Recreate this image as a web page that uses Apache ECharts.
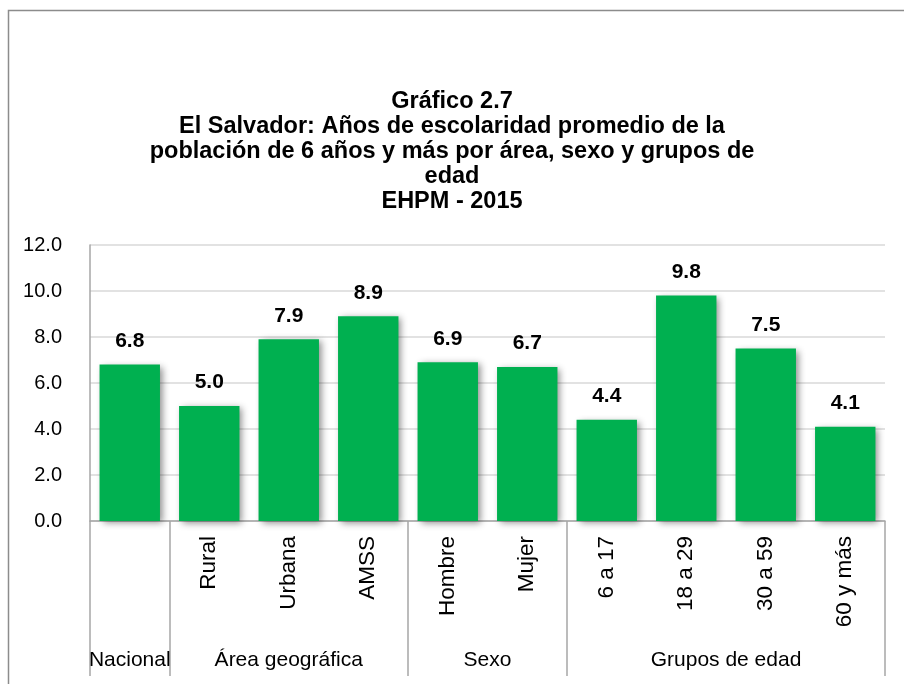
<!DOCTYPE html>
<html>
<head>
<meta charset="utf-8">
<script src="https://cdn.jsdelivr.net/npm/echarts@6/dist/echarts.min.js"></script>
<style>
  html, body { margin: 0; padding: 0; background: #fff; }
  #chart { width: 904px; height: 684px; }
</style>
</head>
<body>
<div id="chart"></div>
<script>
// categories (first one, Nacional, has its name only in the group row)
var categories = ["", "Rural", "Urbana", "AMSS", "Hombre", "Mujer", "6 a 17", "18 a 29", "30 a 59", "60 y más"];
var values = [6.8, 5.0, 7.9, 8.9, 6.9, 6.7, 4.4, 9.8, 7.5, 4.1];
var groupNames = ["Nacional", "Área geográfica", "Sexo", "Grupos de edad"];
var groupCenters = [0.5, 2.5, 5, 8];
var groupBounds = [0, 1, 4, 6, 10];
var yTicks = [0, 2, 4, 6, 8, 10, 12];

var FONT = "'Liberation Sans Narrow', 'Arial Narrow', 'Liberation Sans', sans-serif";

var chart = echarts.init(document.getElementById("chart"));

chart.setOption({
  animation: false,
  title: {
    text: "Gráfico 2.7\nEl Salvador: Años de escolaridad promedio de la\npoblación de 6 años y más por área, sexo y grupos de\nedad\nEHPM - 2015",
    left: "center",
    top: 84,
    textStyle: {
      fontFamily: FONT,
      fontSize: 23.5,
      fontWeight: "bold",
      color: "#000",
      lineHeight: 25,
      align: "center"
    }
  },
  graphic: [
    {
      type: "rect",
      left: 6,
      top: 8,
      shape: { width: 1200, height: 1000 },
      style: { fill: "none", stroke: "#8c8c8c", lineWidth: 1.5 },
      silent: true
    }
  ],
  grid: {
    left: 90,
    right: 19,
    top: 245,
    bottom: 163,
    containLabel: false
  },
  xAxis: [
    {
      type: "category",
      data: categories,
      axisLine: { show: true, lineStyle: { color: "#a6a6a6", width: 1.5 } },
      axisTick: { show: false },
      axisLabel: {
        rotate: 90,
        margin: 15,
        fontFamily: FONT,
        fontSize: 22.5,
        color: "#000",
        interval: 0
      }
    },
    {
      type: "value",
      min: 0,
      max: 10,
      position: "bottom",
      axisLine: { show: false },
      splitLine: { show: false },
      axisTick: {
        show: true,
        customValues: groupBounds,
        length: 155,
        lineStyle: { color: "#a6a6a6", width: 1.5 }
      },
      axisLabel: {
        show: true,
        customValues: groupCenters,
        margin: 129,
        fontFamily: FONT,
        fontSize: 21,
        color: "#000",
        formatter: function (v) {
          for (var i = 0; i < groupCenters.length; i++) {
            if (Math.abs(groupCenters[i] - v) < 0.01) return groupNames[i];
          }
          return "";
        }
      }
    }
  ],
  yAxis: {
    type: "value",
    min: yTicks[0],
    max: yTicks[yTicks.length - 1],
    interval: 2,
    axisLine: { show: true, lineStyle: { color: "#a6a6a6", width: 1.5 } },
    axisTick: { show: false },
    splitLine: { lineStyle: { color: "#d9d9d9", width: 1.5 } },
    axisLabel: {
      margin: 28,
      fontFamily: FONT,
      fontSize: 20,
      color: "#000",
      formatter: function (v) { return v.toFixed(1); }
    }
  },
  series: [
    {
      type: "bar",
      xAxisIndex: 0,
      data: values,
      barCategoryGap: "24%",
      itemStyle: {
        color: "#00b050",
        shadowColor: "rgba(0,0,0,0.45)",
        shadowBlur: 7,
        shadowOffsetX: 3,
        shadowOffsetY: 2
      },
      label: {
        show: true,
        position: "top",
        distance: 13,
        fontFamily: FONT,
        fontSize: 21,
        fontWeight: "bold",
        color: "#000",
        formatter: function (p) { return p.value.toFixed(1); }
      }
    }
  ]
});
</script>
</body>
</html>
